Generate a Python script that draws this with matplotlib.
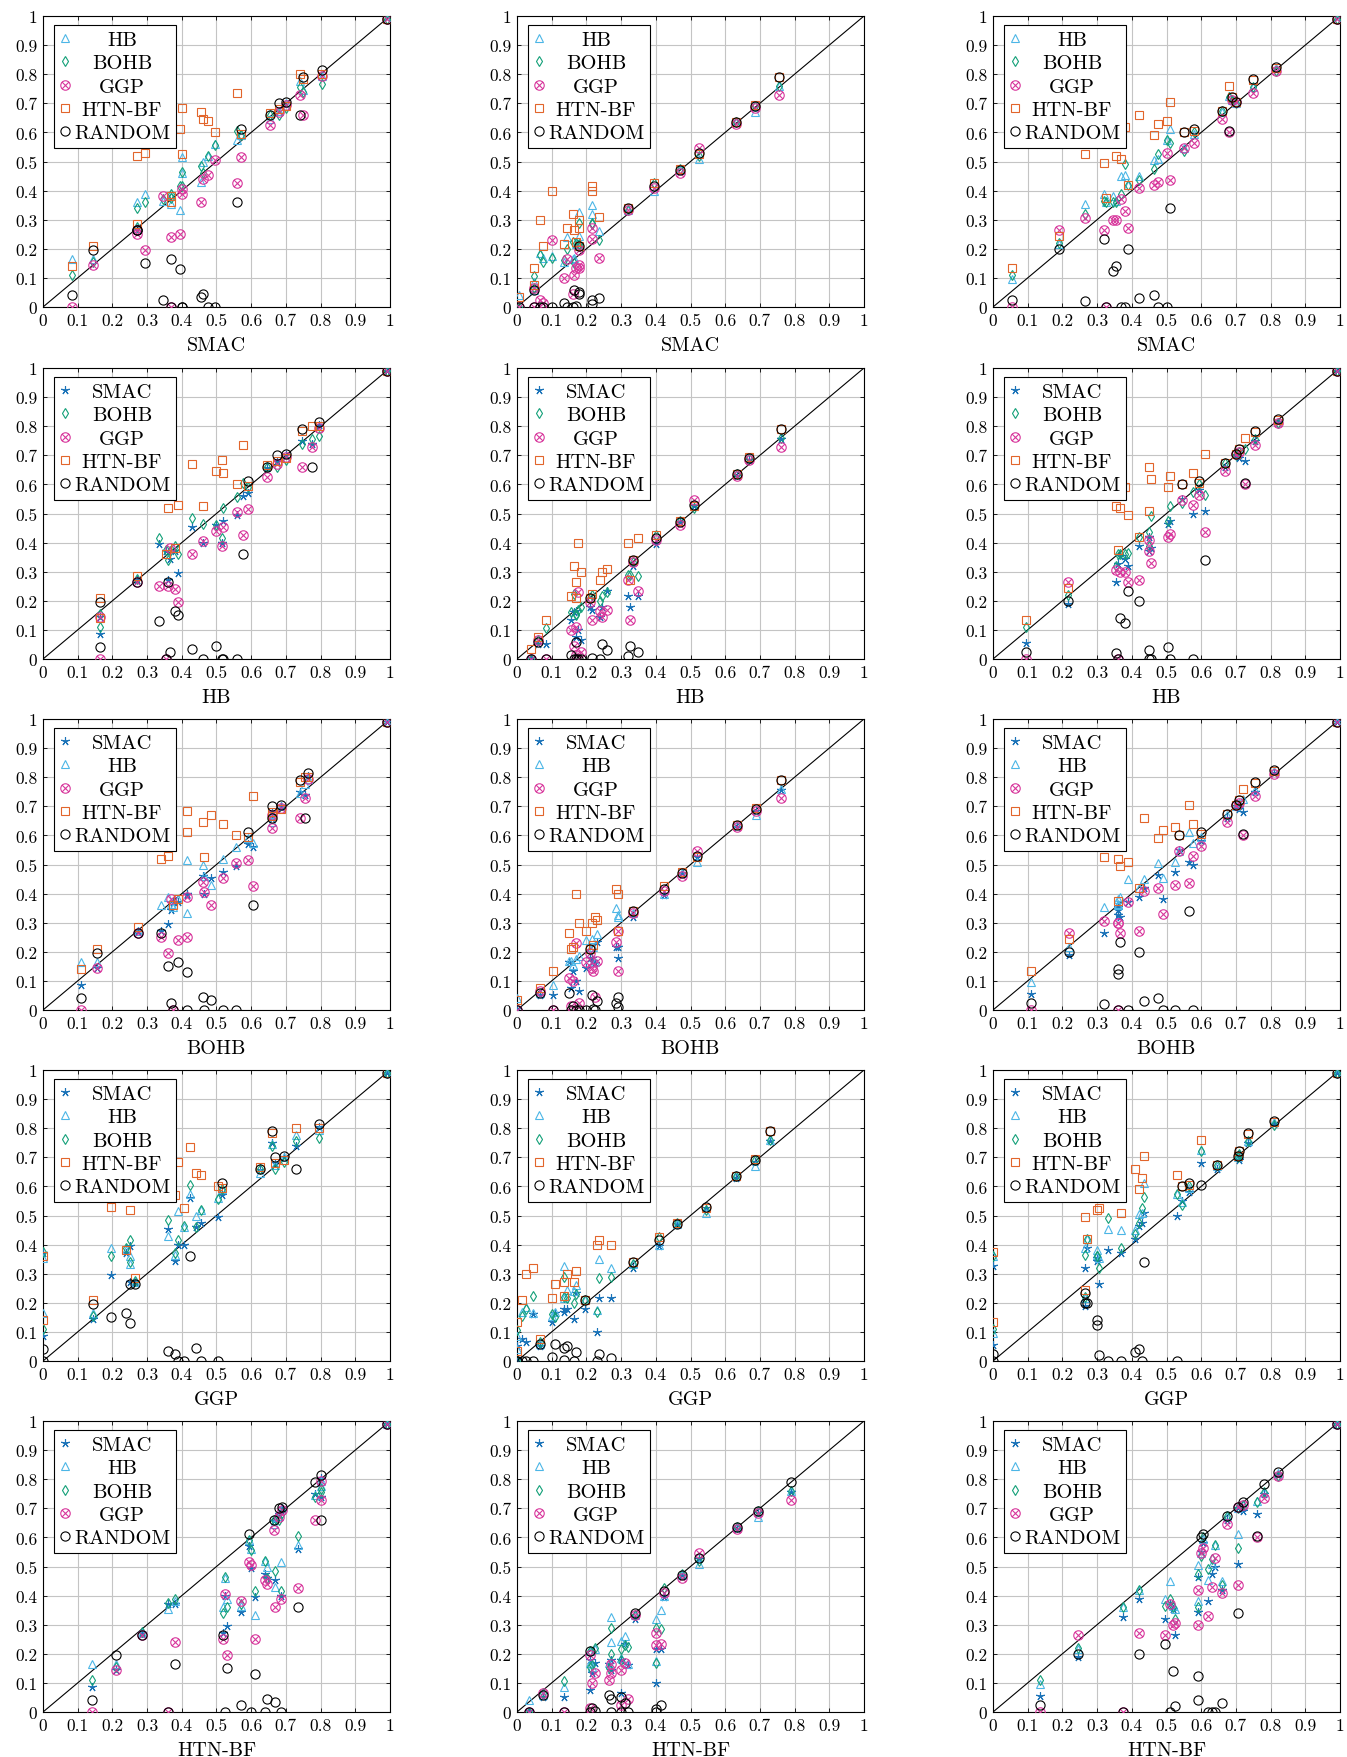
import matplotlib
matplotlib.use("Agg")
import matplotlib.pyplot as plt
from matplotlib.path import Path
import numpy as np

plt.rcParams['font.family'] = 'cmr10'
plt.rcParams['mathtext.fontset'] = 'cm'
plt.rcParams['axes.formatter.use_mathtext'] = True

# scores per task, one list per method; three columns of panels (a, b, c)
smac_a = [0.085, 0.145, 0.27, 0.27, 0.295, 0.345, 0.37, 0.37, 0.395, 0.40, 0.40, 0.455, 0.46, 0.475, 0.495, 0.56, 0.57, 0.655, 0.68, 0.70, 0.74, 0.75, 0.805, 0.99]
hb_a = [0.165, 0.165, 0.36, 0.27, 0.39, 0.365, 0.38, 0.355, 0.335, 0.515, 0.46, 0.43, 0.50, 0.52, 0.56, 0.575, 0.59, 0.645, 0.675, 0.70, 0.775, 0.745, 0.795, 0.99]
bohb_a = [0.11, 0.155, 0.34, 0.275, 0.36, 0.37, 0.39, 0.375, 0.415, 0.415, 0.465, 0.485, 0.46, 0.52, 0.555, 0.605, 0.59, 0.66, 0.66, 0.685, 0.755, 0.74, 0.765, 0.99]
ggp_a = [0.0, 0.145, 0.25, 0.265, 0.195, 0.38, 0.24, 0.0, 0.25, 0.39, 0.405, 0.36, 0.44, 0.455, 0.505, 0.425, 0.515, 0.625, 0.67, 0.695, 0.73, 0.66, 0.795, 0.99]
htn_a = [0.14, 0.21, 0.52, 0.285, 0.53, 0.57, 0.38, 0.36, 0.61, 0.685, 0.525, 0.67, 0.645, 0.64, 0.60, 0.735, 0.595, 0.665, 0.68, 0.69, 0.80, 0.785, 0.80, 0.99]
rand_a = [0.04, 0.195, 0.265, 0.265, 0.15, 0.025, 0.165, 0.0, 0.13, 0.0, 0.0, 0.035, 0.045, 0.0, 0.0, 0.36, 0.61, 0.66, 0.70, 0.705, 0.66, 0.79, 0.815, 0.99]

smac_b = [0.005, 0.05, 0.05, 0.065, 0.075, 0.10, 0.135, 0.145, 0.16, 0.165, 0.17, 0.18, 0.18, 0.18, 0.215, 0.215, 0.235, 0.32, 0.395, 0.47, 0.525, 0.63, 0.685, 0.755]
hb_b = [0.04, 0.06, 0.085, 0.185, 0.17, 0.175, 0.155, 0.24, 0.165, 0.17, 0.215, 0.325, 0.245, 0.21, 0.35, 0.32, 0.26, 0.335, 0.40, 0.47, 0.51, 0.635, 0.67, 0.76]
bohb_b = [0.0, 0.065, 0.105, 0.18, 0.155, 0.17, 0.16, 0.20, 0.225, 0.15, 0.22, 0.29, 0.215, 0.21, 0.285, 0.29, 0.23, 0.335, 0.425, 0.475, 0.52, 0.635, 0.69, 0.76]
ggp_b = [0.0, 0.065, 0.0, 0.025, 0.015, 0.23, 0.10, 0.165, 0.045, 0.11, 0.135, 0.135, 0.145, 0.195, 0.235, 0.27, 0.17, 0.335, 0.41, 0.46, 0.545, 0.63, 0.685, 0.73]
htn_b = [0.035, 0.075, 0.135, 0.30, 0.21, 0.40, 0.215, 0.27, 0.32, 0.265, 0.225, 0.27, 0.30, 0.21, 0.415, 0.40, 0.31, 0.34, 0.425, 0.475, 0.525, 0.635, 0.695, 0.79]
rand_b = [0.0, 0.06, 0.0, 0.0, 0.0, 0.0, 0.015, 0.0, 0.0, 0.06, 0.005, 0.045, 0.05, 0.21, 0.025, 0.01, 0.03, 0.34, 0.415, 0.47, 0.53, 0.635, 0.69, 0.79]

smac_c = [0.055, 0.19, 0.265, 0.32, 0.325, 0.345, 0.355, 0.37, 0.38, 0.39, 0.42, 0.465, 0.475, 0.50, 0.51, 0.55, 0.58, 0.66, 0.68, 0.69, 0.70, 0.75, 0.815, 0.99]
hb_c = [0.095, 0.215, 0.355, 0.39, 0.36, 0.38, 0.365, 0.45, 0.455, 0.42, 0.45, 0.505, 0.51, 0.575, 0.61, 0.545, 0.595, 0.67, 0.725, 0.71, 0.70, 0.755, 0.82, 0.99]
bohb_c = [0.11, 0.22, 0.32, 0.365, 0.36, 0.36, 0.36, 0.39, 0.49, 0.42, 0.435, 0.475, 0.525, 0.575, 0.565, 0.535, 0.60, 0.675, 0.72, 0.71, 0.70, 0.755, 0.81, 0.99]
ggp_c = [0.0, 0.265, 0.305, 0.265, 0.0, 0.30, 0.30, 0.37, 0.33, 0.27, 0.41, 0.42, 0.43, 0.53, 0.435, 0.545, 0.565, 0.645, 0.60, 0.71, 0.705, 0.735, 0.81, 0.99]
htn_c = [0.135, 0.245, 0.525, 0.495, 0.375, 0.59, 0.52, 0.51, 0.62, 0.42, 0.66, 0.59, 0.63, 0.64, 0.705, 0.60, 0.605, 0.675, 0.76, 0.72, 0.705, 0.78, 0.82, 0.99]
rand_c = [0.025, 0.20, 0.02, 0.235, 0.0, 0.125, 0.14, 0.0, 0.0, 0.20, 0.03, 0.04, 0.0, 0.0, 0.34, 0.60, 0.61, 0.675, 0.605, 0.72, 0.705, 0.785, 0.825, 0.99]

methods = ["SMAC", "HB", "BOHB", "GGP", "HTN-BF", "RANDOM"]
columns = [
    dict(zip(methods, [smac_a, hb_a, bohb_a, ggp_a, htn_a, rand_a])),
    dict(zip(methods, [smac_b, hb_b, bohb_b, ggp_b, htn_b, rand_b])),
    dict(zip(methods, [smac_c, hb_c, bohb_c, ggp_c, htn_c, rand_c])),
]
row_methods = ["SMAC", "HB", "BOHB", "GGP", "HTN-BF"]
tick_vals = np.round(np.arange(0, 1.01, 0.1), 1)
tick_labels = ["0", "0.1", "0.2", "0.3", "0.4", "0.5", "0.6", "0.7", "0.8", "0.9", "1"]

# circle with a cross inside, like pgfplots "otimes"
c = Path.unit_circle()
d = 0.7071
cross = Path([(-d, -d), (d, d), (-d, d), (d, -d)],
             [Path.MOVETO, Path.LINETO, Path.MOVETO, Path.LINETO])
otimes = Path.make_compound_path(c, cross)

styles = {
    "SMAC": dict(marker=(5, 2, 0), color="#1b73b8", ms=6.2),
    "HB": dict(marker="^", color="#4cb6e6", ms=5.6),
    "BOHB": dict(marker="d", color="#12a078", ms=5.4),
    "GGP": dict(marker=otimes, color="#d8379c", ms=6.8),
    "HTN-BF": dict(marker="s", color="#e2652b", ms=6.0),
    "RANDOM": dict(marker="o", color="black", ms=6.6),
}

W, H = 1347, 1758
fig = plt.figure(figsize=(W / 100, H / 100), dpi=100)
col_left = [43, 517, 993]
row_top = [17, 369, 720, 1071, 1422]
aw, ah = 347, 291

legends = []
for r, xm in enumerate(row_methods):
    for ci, data in enumerate(columns):
        ax = fig.add_axes([col_left[ci] / W, 1 - (row_top[r] + ah) / H, aw / W, ah / H])
        ax.plot([0, 1], [0, 1], color="black", lw=0.8, zorder=1)
        for m in methods:
            if m == xm:
                continue
            st = styles[m]
            ax.plot(data[xm], data[m], ls="none", marker=st["marker"], ms=st["ms"],
                    mfc="none", mec=st["color"], mew=0.8, label=m, zorder=3)
        ax.set_xlim(0, 1)
        ax.set_ylim(0, 1)
        ax.set_xticks(tick_vals)
        ax.set_yticks(tick_vals)
        ax.set_xticklabels(tick_labels, fontsize=12.5)
        ax.set_yticklabels(tick_labels, fontsize=12.5)
        ax.tick_params(direction="in", length=3, width=0.6, top=True, right=True, pad=4)
        ax.grid(True, color="#c4c4c4", lw=0.8)
        ax.set_axisbelow(True)
        for s in ax.spines.values():
            s.set_linewidth(0.8)
        ax.set_xlabel(xm, fontsize=14.5, labelpad=6)
        leg = ax.legend(loc="upper left", bbox_to_anchor=(0.031, 0.969), borderaxespad=0,
                        fontsize=14.8, numpoints=1, handlelength=0.5, handletextpad=0.2,
                        borderpad=0.28, labelspacing=0.24, fancybox=False, framealpha=1,
                        edgecolor="black")
        leg.get_frame().set_linewidth(0.8)
        legends.append(leg)

# center legend labels in their column, as pgfplots does
fig.canvas.draw()
for leg in legends:
    texts = leg.get_texts()
    widths = [t.get_window_extent().width for t in texts]
    wmax = max(widths)
    for t, w in zip(texts, widths):
        t.set_x((wmax - w) / 2)

fig.savefig("out.png", dpi=100)
